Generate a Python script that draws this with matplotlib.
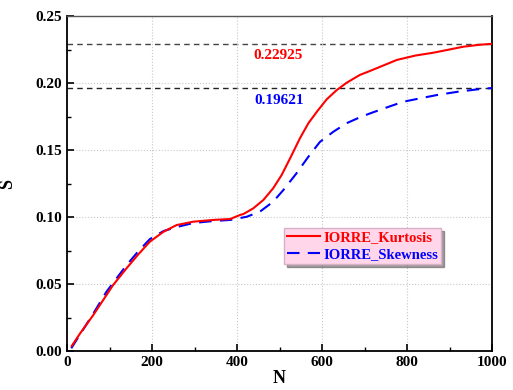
import matplotlib
matplotlib.use("Agg")
import matplotlib.pyplot as plt
import numpy as np

plt.rcParams['font.family'] = ['Liberation Serif', 'DejaVu Serif']
plt.rcParams['font.weight'] = 'bold'

# curves
n_kurt = [11, 31, 62, 108, 140, 168, 195, 227, 258, 297, 344, 384, 407, 415, 438,
          462, 485, 505, 525, 548, 568, 588, 611, 635, 658, 689, 713, 776, 820,
          862, 900, 933, 970, 1000]
s_kurt = [0.0037, 0.0132, 0.0269, 0.049, 0.0617, 0.0722, 0.0816, 0.089, 0.094,
          0.0965, 0.0978, 0.0985, 0.1015, 0.1022, 0.1064, 0.1127, 0.1214, 0.1313,
          0.1438, 0.1587, 0.170, 0.1786, 0.1878, 0.1948, 0.2002, 0.206, 0.209,
          0.2172, 0.2205, 0.2226, 0.2250, 0.2271, 0.2285, 0.22925]

n_skew = [10, 31, 62, 93, 140, 168, 195, 227, 258, 297, 344, 384, 423, 454, 485,
          509, 540, 568, 595, 627, 658, 689, 713, 750, 791, 830, 870, 920, 980,
          1000]
s_skew = [0.002, 0.0125, 0.028, 0.0443, 0.064, 0.0745, 0.0835, 0.0895, 0.0925,
          0.0955, 0.097, 0.0978, 0.1002, 0.104, 0.1114, 0.1201, 0.1326, 0.145,
          0.156, 0.1637, 0.170, 0.1744, 0.1773, 0.1815, 0.186, 0.1885, 0.191,
          0.1935, 0.1958, 0.19621]

ref_kurt = 0.22925
ref_skew = 0.19621

fig = plt.figure(figsize=(5.13, 3.9), dpi=100)
ax = fig.add_axes([67 / 513, 1 - 351 / 390, 425 / 513, 335 / 390])

ax.axhline(ref_kurt, color='#444444', ls=(0, (4, 3)), lw=1.0, zorder=1)
ax.axhline(ref_skew, color='#222222', ls=(0, (4, 3)), lw=1.0, zorder=1)

ax.plot(n_skew, s_skew, color='blue', ls=(0, (6, 4)), lw=1.5, label='IORRE_Skewness', zorder=3)
ax.plot(n_kurt, s_kurt, color='red', lw=1.5, label='IORRE_Kurtosis', zorder=4)

ax.text(496, 0.2205, '%.5f' % ref_kurt, color='red', fontsize=11, fontweight='bold',
        ha='center', va='center')
ax.text(499, 0.1866, '%.5f' % ref_skew, color='blue', fontsize=11, fontweight='bold',
        ha='center', va='center')

ax.set_xlim(0, 1000)
ax.set_ylim(0, 0.25)
ax.set_xticks([0, 200, 400, 600, 800, 1000])
ax.set_xticks([100, 300, 500, 700, 900], minor=True)
ax.set_yticks(np.arange(0, 0.251, 0.05))
ax.set_yticks(np.arange(0.025, 0.25, 0.05), minor=True)
ax.set_yticklabels(['%.2f' % v for v in np.arange(0, 0.251, 0.05)])
ax.grid(True, which='major', color='#c8c8c8', ls=':', lw=0.8, zorder=0)
ax.tick_params(which='both', direction='in', top=False, right=False, labelsize=11)
ax.tick_params(which='major', length=5, width=1.2)
ax.tick_params(which='minor', length=3, width=1.0)
for side in ['left', 'bottom', 'right']:
    ax.spines[side].set_linewidth(1.3)
ax.spines['top'].set_color('#555555')
ax.spines['top'].set_linewidth(1.0)

ax.set_xlabel('N', fontsize=13, fontweight='bold', labelpad=1)
ax.set_ylabel('S', fontsize=13, fontweight='bold', labelpad=14)

h, l = ax.get_legend_handles_labels()
leg = ax.legend(h[::-1], l[::-1], loc='lower left', bbox_to_anchor=(0.51, 0.26),
                fontsize=10.5, frameon=True, fancybox=False, shadow=True,
                handlelength=2.3, handletextpad=0.2, borderpad=0.2, labelspacing=0.25,
                borderaxespad=0)
leg.get_frame().set_facecolor('#ffd6ea')
leg.get_frame().set_edgecolor('#d8b0c8')
leg.get_frame().set_alpha(1)
for txt, col in zip(leg.get_texts(), ['red', 'blue']):
    txt.set_color(col)
    txt.set_fontweight('bold')

fig.savefig('out.png', dpi=100)
